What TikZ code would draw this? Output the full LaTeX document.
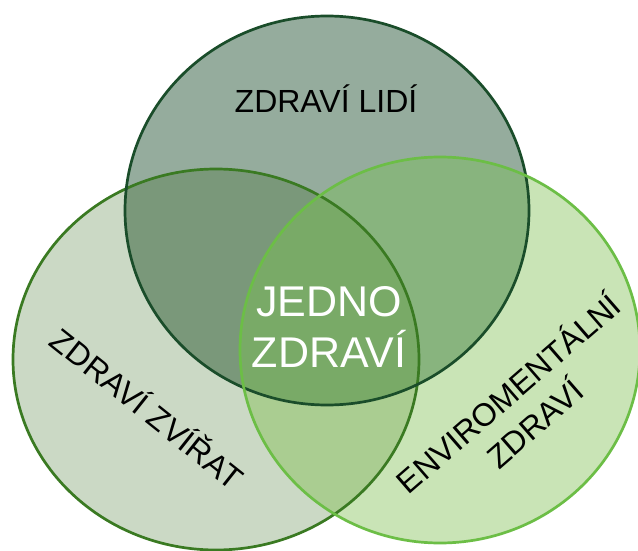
\documentclass[tikz,border=0pt]{standalone}
\usepackage{fontspec}
\setmainfont{Liberation Sans}
\definecolor{topF}{HTML}{95AC9D}
\definecolor{leftF}{HTML}{CBD9C5}
\definecolor{rightF}{HTML}{C9E4B6}
\definecolor{tlF}{HTML}{7A987A}
\definecolor{trF}{HTML}{88B47E}
\definecolor{lrF}{HTML}{AACD91}
\definecolor{allF}{HTML}{79AA67}
\definecolor{topS}{HTML}{1A4D2A}
\definecolor{leftS}{HTML}{3A7A22}
\definecolor{rightS}{HTML}{6CBE46}
\begin{document}
\begin{tikzpicture}[x=1pt,y=-1pt,
  lbl/.style={font=\fontsize{32}{40}\selectfont, text=black, align=center, inner sep=0pt, anchor=base},
  ctr/.style={font=\fontsize{43}{51}\selectfont, text=white, align=center, inner sep=0pt, anchor=base},
  ring/.style={line width=2.7pt}]
\clip (0,0) rectangle (638,551);
\fill[white] (0,0) rectangle (638,551);
% solo fills
\fill[leftF] (216,359.5) ellipse [x radius=203pt, y radius=190.5pt];
\fill[rightF] (440,350) ellipse [x radius=200pt, y radius=193pt];
\fill[topF] (327,210.5) ellipse [x radius=202pt, y radius=194.5pt];
% pairwise overlaps
\begin{scope}
  \clip (327,210.5) ellipse [x radius=202pt, y radius=194.5pt];
  \fill[tlF] (216,359.5) ellipse [x radius=203pt, y radius=190.5pt];
\end{scope}
\begin{scope}
  \clip (327,210.5) ellipse [x radius=202pt, y radius=194.5pt];
  \fill[trF] (440,350) ellipse [x radius=200pt, y radius=193pt];
\end{scope}
\begin{scope}
  \clip (216,359.5) ellipse [x radius=203pt, y radius=190.5pt];
  \fill[lrF] (440,350) ellipse [x radius=200pt, y radius=193pt];
\end{scope}
% triple overlap
\begin{scope}
  \clip (327,210.5) ellipse [x radius=202pt, y radius=194.5pt];
  \clip (216,359.5) ellipse [x radius=203pt, y radius=190.5pt];
  \fill[allF] (440,350) ellipse [x radius=200pt, y radius=193pt];
\end{scope}
% outlines
\draw[ring, leftS] (216,359.5) ellipse [x radius=203pt, y radius=190.5pt];
\draw[ring, topS] (327,210.5) ellipse [x radius=202pt, y radius=194.5pt];
\draw[ring, rightS] (440,350) ellipse [x radius=200pt, y radius=193pt];
% labels
\node[lbl] (lidi) at (326,113) {ZDRAVÍ LIDÍ};
\node[ctr] (jedno) at (329,367) {JEDNO\\ZDRAVÍ};
\node[lbl, rotate=-38.5] (zvirat) at (140,418) {ZDRAVÍ ZVÍŘAT};
\node[lbl, rotate=41] (env) at (542.5,432.7) {ENVIROMENTÁLNÍ\\ZDRAVÍ};
\end{tikzpicture}
\end{document}
